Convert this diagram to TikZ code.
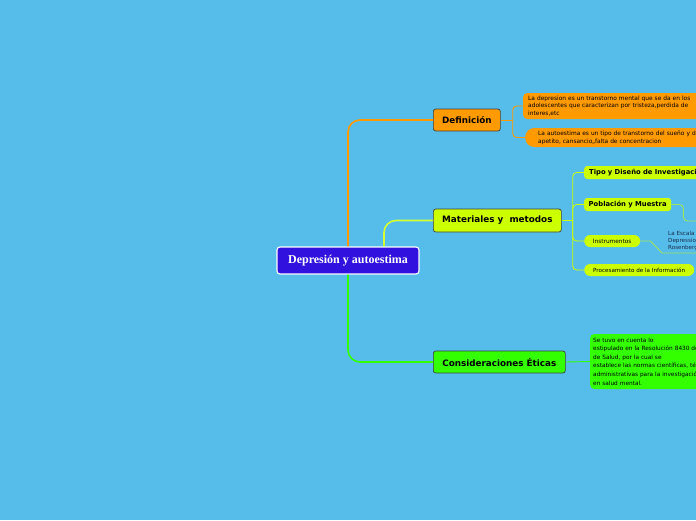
\documentclass[tikz,border=0pt]{standalone}
\usepackage{fontspec}
\setmainfont{DejaVu Sans}
\newfontfamily\rootfont{Liberation Serif}
\usepackage{tikz}

\begin{document}
\begin{tikzpicture}[x=1pt,y=-1pt,
  topic/.style={draw=black!75, line width=0.7pt, rounded corners=2.5pt, anchor=west,
    inner sep=0pt, font=\fontsize{8.8}{10}\selectfont\bfseries},
  leaf/.style={anchor=west, inner sep=0pt, font=\fontsize{5.9}{7.6}\selectfont},
  branch/.style={line width=1.6pt, rounded corners=12pt},
  twig/.style={line width=0.9pt, rounded corners=4pt}]

% Colori
\definecolor{colBg}{HTML}{56BDEB}
\definecolor{colRoot}{HTML}{3011DD}
\definecolor{colDef}{HTML}{FF9A00}
\definecolor{colMat}{HTML}{CCFF00}
\definecolor{colEti}{HTML}{33FF00}
\definecolor{colEsc}{HTML}{1C2A4A}

% Sfondo
\useasboundingbox (0,0) rectangle (696,520);
\fill[colBg] (0,0) rectangle (696,520);
\clip (0,0) rectangle (696,520);

% Nodo centrale
\node[fill=colRoot, draw=white, line width=1.1pt, rounded corners=3pt, text=white,
  minimum width=142pt, minimum height=27pt, inner sep=0pt,
  font=\rootfont\fontsize{12}{13}\selectfont\bfseries] (root) at (348,260.5) {Depresión y autoestima};

% Rami principali
\node[topic, fill=colDef, minimum width=67pt, minimum height=22pt] (def) at (433,120) {Definición};
\node[topic, fill=colMat, minimum width=128pt, minimum height=23pt] (mat) at (433,220.5) {Materiales y\ \ metodos};
\node[topic, fill=colEti, minimum width=132pt, minimum height=22pt] (eti) at (433,362) {Consideraciones Éticas};

\draw[branch, colDef] (root.north) |- (def.west);
\draw[branch, colMat!80!white] ([xshift=36pt]root.north) |- (mat.west);
\draw[branch, colEti] (root.south) |- (eti.west);

% Definición
\node[leaf, fill=colDef, rounded corners=4pt, minimum height=26pt, text width=200pt,
  inner xsep=5pt, align=left] (defa) at (523,106)
  {La depresion es un transtorno mental que se da en los\\adolescentes que caracterizan por tristeza,perdida de\\interes,etc};
\node[leaf, fill=colDef, rounded corners=9pt, minimum height=19pt, text width=200pt,
  inner xsep=13pt, align=left, font=\fontsize{5.9}{8}\selectfont] (defb) at (525,137.5)
  {La autoestima es un tipo de transtorno del sueño y de\\apetito, cansancio,,falta de concentracion};

\draw[twig, colDef] (def.east) -- ++(12,0) coordinate (dj);
\draw[twig, colDef] (dj) |- (defa.west);
\draw[twig, colDef] (dj) |- (defb.west);

% Materiales y metodos
\node[leaf, fill=colMat, rounded corners=3pt, text width=130pt, minimum height=13pt, align=left,
  inner xsep=5pt, font=\fontsize{6.8}{7.5}\selectfont\bfseries] (tipo) at (584,172.5) {Tipo y Diseño de Investigación};
\node[leaf, fill=colMat, rounded corners=3pt, minimum width=87pt, minimum height=13pt,
  font=\fontsize{6.8}{7.5}\selectfont\bfseries] (pob) at (584,204.5) {Población y Muestra};
\node[leaf, fill=colMat, rounded corners=6pt, minimum width=56pt, minimum height=12pt,
  font=\fontsize{5.8}{6.5}\selectfont] (instr) at (584,241) {Instrumentos};
\node[leaf, fill=colMat, rounded corners=6pt, minimum width=110pt, minimum height=12pt,
  font=\fontsize{5.6}{6.5}\selectfont] (proc) at (584,270) {Procesamiento de la Información};
\node[leaf, anchor=south west, text=colEsc, inner xsep=6pt, inner ysep=2pt, align=left,
  font=\fontsize{5.6}{7}\selectfont] (esc) at (662,253) {La Escala de\\Depression de\\Rosenberg};
\coordinate (pobnext) at (700,221);

\draw[twig, colMat] (mat.east) -- ++(11,0) coordinate (mj);
\draw[twig, colMat] (mj) |- (tipo.west);
\draw[twig, colMat] (mj) |- (pob.west);
\draw[twig, colMat] (mj) |- (instr.west);
\draw[twig, colMat] (mj) |- (proc.west);
\draw[twig, colMat!60!colBg] (pob.east) -- ++(12,0) |- (pobnext);
\draw[line width=0.9pt, colMat!60!colBg] (instr.east) -- ++(10,0) -- (esc.south west) -- (700,253);

% Consideraciones Éticas
\node[leaf, fill=colEti, rounded corners=4pt, minimum height=55pt, text width=200pt,
  inner xsep=3pt, align=left, font=\fontsize{5.8}{8.6}\selectfont] (etia) at (590,361.5)
  {Se tuvo en cuenta lo\\estipulado en la Resolución 8430 de\\de Salud, por la cual se\\establece las normas científicas, técnicas y\\administrativas para la investigación\\en salud mental.};

\draw[twig, colEti] (eti.east) -- (etia.west);

\end{tikzpicture}
\end{document}
